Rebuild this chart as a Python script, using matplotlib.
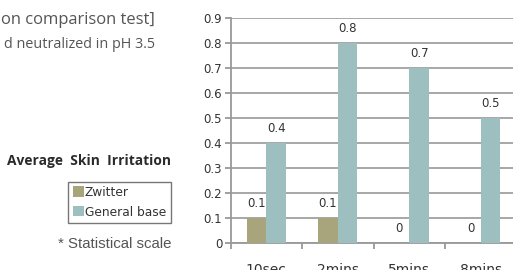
import matplotlib.pyplot as plt
import numpy as np

categories = ["10sec", "2mins", "5mins", "8mins"]
zwitter = [0.1, 0.1, 0, 0]
general = [0.4, 0.8, 0.7, 0.5]
bar_labels_z = ["0.1", "0.1", "0", "0"]
bar_labels_g = ["0.4", "0.8", "0.7", "0.5"]
yticks = [0, 0.1, 0.2, 0.3, 0.4, 0.5, 0.6, 0.7, 0.8, 0.9]

W, H = 513, 270
fig = plt.figure(figsize=(W / 100, H / 100), dpi=100)
ax = fig.add_axes([230.5 / W, 26.7 / H, 286 / W, 225 / H])

x = np.arange(len(categories))
bw = 0.275
ax.bar(x - bw / 2, zwitter, bw, color="#a8a47c", label="Zwitter", zorder=3)
ax.bar(x + bw / 2, general, bw, color="#9dbfbf", label="General base", zorder=3)

for i in range(len(categories)):
    ax.annotate(bar_labels_z[i], (x[i] - bw / 2, zwitter[i]), xytext=(0, 11),
                textcoords="offset points", ha="center", va="center",
                fontsize=8.5, color="#333333")
    ax.annotate(bar_labels_g[i], (x[i] + bw / 2, general[i]), xytext=(0, 11),
                textcoords="offset points", ha="center", va="center",
                fontsize=8.5, color="#333333")

ax.set_xlim(-0.5, 3.5)
ax.set_ylim(0, 0.9)
ax.set_yticks(yticks)
ax.set_yticklabels(["0" if v == 0 else f"{v:.1f}" for v in yticks])
ax.set_xticks(x)
ax.set_xticklabels(categories)
ax.set_xticks(np.arange(-0.5, 3.5, 1), minor=True)
ax.tick_params(axis="x", which="major", length=0, pad=14, labelsize=10, colors="#333333")
ax.tick_params(axis="x", which="minor", length=4, width=1.3, color="#999999")
ax.tick_params(axis="y", length=4, width=1.3, color="#999999", pad=2,
               labelsize=8.5, labelcolor="#333333")
ax.grid(axis="y", color="#a0a0a0", linewidth=1.3, zorder=0)
for s in ["top", "right"]:
    ax.spines[s].set_visible(False)
for s in ["left", "bottom"]:
    ax.spines[s].set_color("#999999")
    ax.spines[s].set_linewidth(1.3)

# left side texts (cut at the left edge like the original)
fig.text(155 / W, 1 - 20 / H, "on comparison test]", ha="right", va="center",
         fontsize=11.9, color="#555555", family="Open Sans")
fig.text(155 / W, 1 - 44 / H, "d neutralized in pH 3.5", ha="right", va="center",
         fontsize=10.4, color="#555555", family="Open Sans")
fig.text(171 / W, 1 - 161 / H, "Average  Skin  Irritation", ha="right", va="center",
         fontsize=9.9, fontweight="bold", color="#2a2a2a", family="Open Sans")
fig.text(171 / W, 1 - 244 / H, "* Statistical scale", ha="right", va="center",
         fontsize=10.8, color="#555555", family="Liberation Sans")

leg = fig.legend(loc="upper right", bbox_to_anchor=(170.5 / W, 1 - 181.5 / H),
                 fontsize=8.8, frameon=True, fancybox=False, handlelength=0.9,
                 handleheight=0.9, handletextpad=0.1, borderpad=0.35,
                 labelspacing=0.55, borderaxespad=0)
leg.get_frame().set_edgecolor("#555555")
leg.get_frame().set_linewidth(1.0)
for t in leg.get_texts():
    t.set_color("#333333")

fig.savefig("out.png", dpi=100)
